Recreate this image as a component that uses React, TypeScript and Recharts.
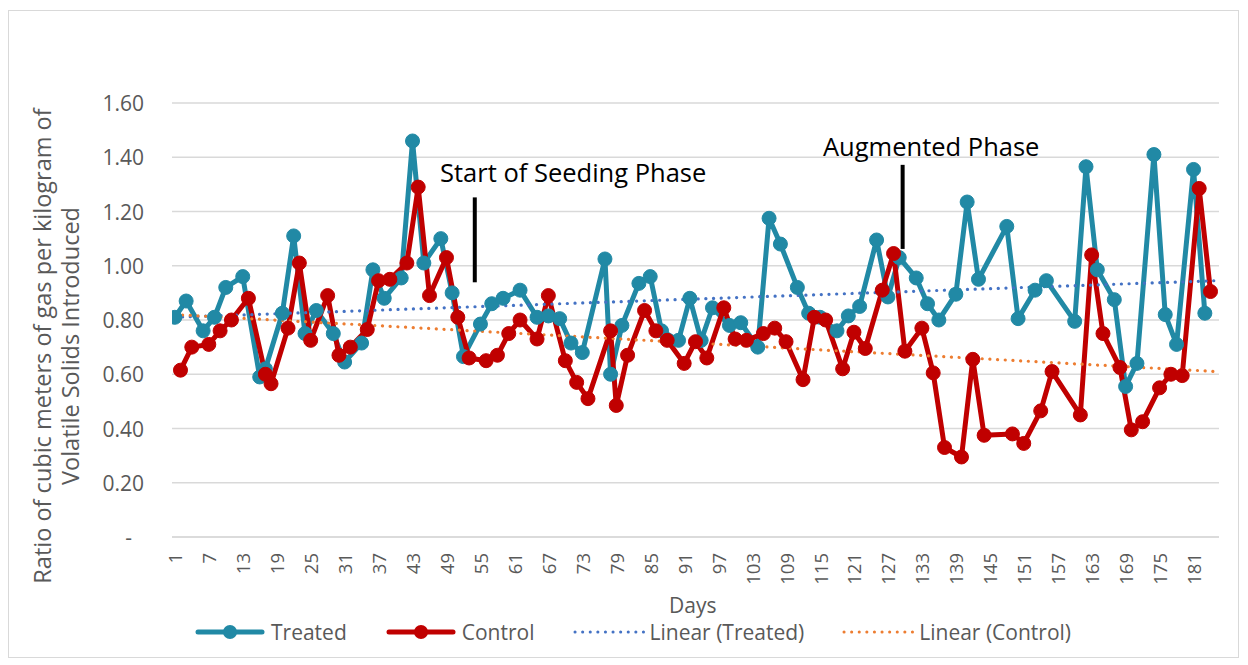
import { CartesianGrid, Line, LineChart, ReferenceLine, XAxis, YAxis } from 'recharts';

const treatedDays = [
  1, 3, 6, 8, 10, 13, 16, 17, 20, 22, 24, 26, 29, 31, 34, 36, 38, 41, 43, 45, 48, 50, 52, 55, 57, 59,
  62, 65, 67, 69, 71, 73, 77, 78, 80, 83, 85, 87, 90, 92, 94, 96, 99, 101, 104, 106, 108, 111, 113,
  115, 118, 120, 122, 125, 127, 129, 132, 134, 136, 139, 141, 143, 148, 150, 153, 155, 160, 162,
  164, 167, 169, 171, 174, 176, 178, 181, 183,
];
const treatedValues = [
  0.81, 0.87, 0.76, 0.81, 0.92, 0.96, 0.59, 0.62, 0.825, 1.11, 0.75, 0.835, 0.75, 0.645, 0.715,
  0.985, 0.88, 0.955, 1.46, 1.01, 1.1, 0.9, 0.665, 0.785, 0.86, 0.88, 0.91, 0.81, 0.815, 0.805,
  0.715, 0.68, 1.025, 0.6, 0.78, 0.935, 0.96, 0.76, 0.725, 0.88, 0.725, 0.845, 0.78, 0.79, 0.7,
  1.175, 1.08, 0.92, 0.825, 0.81, 0.76, 0.815, 0.85, 1.095, 0.885, 1.03, 0.955, 0.86, 0.8, 0.895,
  1.235, 0.95, 1.145, 0.805, 0.91, 0.945, 0.795, 1.365, 0.985, 0.875, 0.555, 0.64, 1.41, 0.82,
  0.71, 1.355, 0.825,
];

const controlDays = [
  2, 4, 7, 9, 11, 14, 17, 18, 21, 23, 25, 28, 30, 32, 35, 37, 39, 42, 44, 46, 49, 51, 53, 56, 58, 60,
  62, 65, 67, 70, 72, 74, 78, 79, 81, 84, 86, 88, 91, 93, 95, 98, 100, 102, 105, 107, 109, 112, 114,
  116, 119, 121, 123, 126, 128, 130, 133, 135, 137, 140, 142, 144, 149, 151, 154, 156, 161, 163,
  165, 168, 170, 172, 175, 177, 179, 182, 184,
];
const controlValues = [
  0.615, 0.7, 0.71, 0.76, 0.8, 0.88, 0.6, 0.565, 0.77, 1.01, 0.725, 0.89, 0.67, 0.7, 0.765, 0.945,
  0.95, 1.01, 1.29, 0.89, 1.03, 0.81, 0.66, 0.65, 0.67, 0.75, 0.8, 0.73, 0.89, 0.65, 0.57, 0.51,
  0.76, 0.485, 0.67, 0.835, 0.76, 0.725, 0.64, 0.72, 0.66, 0.845, 0.73, 0.725, 0.75, 0.77, 0.72,
  0.58, 0.81, 0.8, 0.62, 0.755, 0.695, 0.91, 1.045, 0.685, 0.77, 0.605, 0.33, 0.295, 0.655, 0.375,
  0.38, 0.345, 0.465, 0.61, 0.45, 1.04, 0.75, 0.625, 0.395, 0.425, 0.55, 0.6, 0.595, 1.285, 0.905,
];

// trendline end points
const trendDays = [1, 185];
const treatedTrend = [0.81, 0.945];
const controlTrend = [0.82, 0.61];

const xTicks = [1, 7, 13, 19, 25, 31, 37, 43, 49, 55, 61, 67, 73, 79, 85, 91, 97, 103, 109, 115, 121, 127, 133, 139, 145, 151, 157, 163, 169, 175, 181];
const yTicks = [0, 0.2, 0.4, 0.6, 0.8, 1.0, 1.2, 1.4, 1.6];

const TEAL = '#2189a5';
const RED = '#c00000';
const BLUE = '#4472c4';
const ORANGE = '#ed7d31';
const GREY_TEXT = '#595959';
const GRID = '#d9d9d9';
const FONT = '"Open Sans", sans-serif';

const zip = (days: number[], vals: number[]) => days.map((day, i) => ({ day, v: vals[i] }));

const YTick = ({ x, y, payload }: any) => {
  const v = payload.value as number;
  return (
    <text
      x={v === 0 ? x - 12 : x}
      y={y}
      textAnchor="end"
      dominantBaseline="central"
      fill={GREY_TEXT}
      fontSize={21}
      fontFamily={FONT}
    >
      {v === 0 ? '-' : v.toFixed(2)}
    </text>
  );
};

const XTick = ({ x, y, payload }: any) => (
  <text
    x={x}
    y={y}
    transform={`rotate(-90 ${x} ${y})`}
    textAnchor="end"
    dominantBaseline="central"
    fill={GREY_TEXT}
    fontSize={18.5}
    fontFamily={FONT}
  >
    {payload.value}
  </text>
);

function LegendIcon({ color, dotted, marker }: { color: string; dotted?: boolean; marker?: boolean }) {
  return (
    <svg width={72} height={20} style={{ display: 'block' }}>
      {dotted ? (
        <line x1={2} y1={10} x2={72} y2={10} stroke={color} strokeWidth={3} strokeDasharray="0.1 7.5" strokeLinecap="round" />
      ) : (
        <line x1={4} y1={10} x2={68} y2={10} stroke={color} strokeWidth={5} strokeLinecap="round" />
      )}
      {marker && <circle cx={36} cy={10} r={7} fill={color} />}
    </svg>
  );
}

const legendItems = [
  { name: 'Treated', color: TEAL, marker: true },
  { name: 'Control', color: RED, marker: true },
  { name: 'Linear (Treated)', color: BLUE, dotted: true },
  { name: 'Linear (Control)', color: ORANGE, dotted: true },
];

export default function App() {
  const treated = zip(treatedDays, treatedValues);
  const control = zip(controlDays, controlValues);
  const treatedLine = zip(trendDays, treatedTrend);
  const controlLine = zip(trendDays, controlTrend);

  return (
    <div style={{ position: 'relative', width: 1232, height: 657, fontFamily: FONT }}>
      <div
        style={{
          position: 'absolute',
          left: 0,
          top: 2,
          width: 1231,
          height: 648,
          border: `1px solid ${GRID}`,
          boxSizing: 'border-box',
        }}
      />
      <LineChart
        width={1232}
        height={657}
        margin={{ top: 95, right: 21, bottom: 68, left: 0 }}
        style={{ position: 'absolute', left: 0, top: 0 }}
      >
        <CartesianGrid vertical={false} stroke={GRID} strokeWidth={1.5} />
        <XAxis
          dataKey="day"
          type="number"
          domain={[0.5, 185.5]}
          ticks={xTicks}
          interval={0}
          tick={<XTick />}
          tickLine={false}
          tickSize={0}
          tickMargin={16}
          axisLine={{ stroke: GRID, strokeWidth: 1.5 }}
          height={60}
          allowDataOverflow
        />
        <YAxis
          type="number"
          domain={[0, 1.6]}
          ticks={yTicks}
          tick={<YTick />}
          tickLine={false}
          axisLine={false}
          tickSize={0}
          tickMargin={28}
          width={164}
        />
        <Line
          data={treated}
          dataKey="v"
          type="linear"
          stroke={TEAL}
          strokeWidth={5}
          strokeLinejoin="round"
          dot={{ r: 7, fill: TEAL, stroke: TEAL, strokeWidth: 1 }}
          activeDot={false}
          isAnimationActive={false}
        />
        <Line
          data={control}
          dataKey="v"
          type="linear"
          stroke={RED}
          strokeWidth={5}
          strokeLinejoin="round"
          dot={{ r: 7, fill: RED, stroke: RED, strokeWidth: 1 }}
          activeDot={false}
          isAnimationActive={false}
        />
        <Line
          data={treatedLine}
          dataKey="v"
          type="linear"
          stroke={BLUE}
          strokeWidth={3.2}
          strokeDasharray="0.1 7.6"
          strokeLinecap="round"
          dot={false}
          activeDot={false}
          isAnimationActive={false}
        />
        <Line
          data={controlLine}
          dataKey="v"
          type="linear"
          stroke={ORANGE}
          strokeWidth={3.2}
          strokeDasharray="0.1 7.6"
          strokeLinecap="round"
          dot={false}
          activeDot={false}
          isAnimationActive={false}
        />
        <ReferenceLine
          segment={[
            { x: 54, y: 1.252 },
            { x: 54, y: 0.939 },
          ]}
          stroke="#000"
          strokeWidth={4}
        />
        <ReferenceLine
          segment={[
            { x: 129.6, y: 1.372 },
            { x: 129.6, y: 1.062 },
          ]}
          stroke="#000"
          strokeWidth={4}
        />
      </LineChart>

      <div style={{ position: 'absolute', left: 432, top: 147, fontSize: 25.5, color: '#000', whiteSpace: 'nowrap', lineHeight: '34px' }}>
        Start of Seeding Phase
      </div>
      <div style={{ position: 'absolute', left: 815, top: 121, fontSize: 25.5, color: '#000', whiteSpace: 'nowrap', lineHeight: '34px' }}>
        Augmented Phase
      </div>

      <div
        style={{
          position: 'absolute',
          left: -232,
          top: 310,
          width: 560,
          height: 56,
          transform: 'rotate(-90deg)',
          textAlign: 'center',
          fontSize: 23.5,
          lineHeight: '28px',
          color: GREY_TEXT,
          whiteSpace: 'nowrap',
        }}
      >
        Ratio of cubic meters of gas per kilogram of
        <br />
        Volatile Solids Introduced
      </div>

      <div style={{ position: 'absolute', left: 661, top: 584, fontSize: 21, color: GREY_TEXT, lineHeight: '26px' }}>Days</div>

      <div style={{ position: 'absolute', left: 186, top: 610, display: 'flex', alignItems: 'center', height: 28 }}>
        {legendItems.map((it) => (
          <div key={it.name} style={{ display: 'flex', alignItems: 'center', marginRight: 38 }}>
            <LegendIcon color={it.color} dotted={it.dotted} marker={it.marker} />
            <span style={{ marginLeft: 5, fontSize: 21, color: GREY_TEXT, whiteSpace: 'nowrap', lineHeight: '28px' }}>{it.name}</span>
          </div>
        ))}
      </div>
    </div>
  );
}
